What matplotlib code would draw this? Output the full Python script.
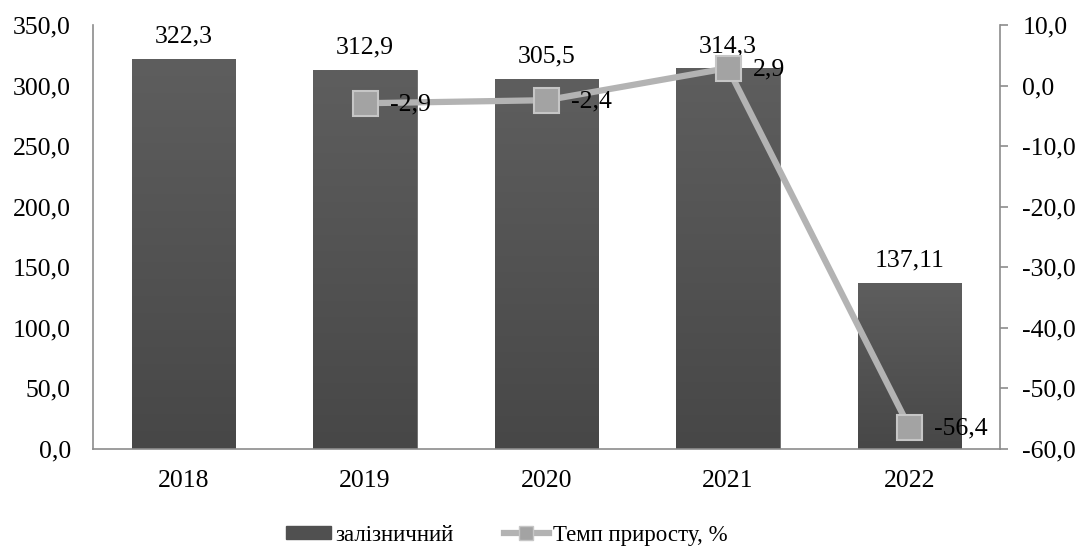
import numpy as np
import matplotlib.pyplot as plt

plt.rcParams['font.family'] = ['Liberation Serif', 'DejaVu Serif']

years = ['2018', '2019', '2020', '2021', '2022']
rail = [322.3, 312.9, 305.5, 314.3, 137.11]
rail_labels = ['322,3', '312,9', '305,5', '314,3', '137,11']
growth_years = ['2019', '2020', '2021', '2022']
growth = [-2.9, -2.4, 2.9, -56.4]

left_ticks = np.arange(0, 351, 50)
right_ticks = np.arange(-60, 11, 10)


def comma(v):
    return f'{v:.1f}'.replace('.', ',')


fs = 18.5
fig = plt.figure(figsize=(10.8, 5.46), dpi=100)
ax = fig.add_axes([0.0861, 0.1777, 0.8398, 0.7763])
x = np.arange(len(years))

bars = ax.bar(x, rail, width=0.57, color='#525252', zorder=2)
# vertical gradient inside each bar
grad = np.linspace(0, 1, 256).reshape(-1, 1)
cmap = plt.matplotlib.colors.LinearSegmentedColormap.from_list(
    'g', ['#474747', '#5e5e5e'])
for b in bars:
    x0, y0 = b.get_x(), b.get_y()
    w, h = b.get_width(), b.get_height()
    im = ax.imshow(grad, cmap=cmap, origin='lower', aspect='auto',
                   extent=[x0, x0 + w, y0, y0 + h], zorder=2.5)
    im.set_clip_path(b)
    b.set_edgecolor('#6a6a6a')
    b.set_linewidth(0.6)

for xi, v, s in zip(x, rail, rail_labels):
    ax.annotate(s, (xi, v), xytext=(0, 8), textcoords='offset points',
                ha='center', va='bottom', fontsize=fs, zorder=5)

ax.set_xlim(-0.5, len(years) - 0.5)
ax.set_ylim(0, 350)
ax.set_yticks(left_ticks)
ax.set_yticklabels([comma(t) for t in left_ticks], fontsize=fs)
ax.set_xticks(x)
ax.set_xticklabels(years, fontsize=fs)
ax.tick_params(axis='y', length=0, pad=16)
ax.tick_params(axis='x', length=0, pad=15)
for s in ['top', 'right']:
    ax.spines[s].set_visible(False)
for s in ['left', 'bottom']:
    ax.spines[s].set_color('#8c8c8c')
    ax.spines[s].set_linewidth(1.2)

ax2 = ax.twinx()
gx = [years.index(y) for y in growth_years]
ax2.plot(gx, growth, color='#b3b3b3', lw=4.5, marker='s', markersize=18,
         markerfacecolor='#a3a3a3', markeredgecolor='#c6c6c6',
         markeredgewidth=1.5, zorder=4, solid_capstyle='butt')
for xi, v in zip(gx, growth):
    ax2.annotate(comma(v), (xi, v), xytext=(18, -1), textcoords='offset points',
                 ha='left', va='center', fontsize=fs, zorder=6)
ax2.set_ylim(-60, 10)
ax2.set_yticks(right_ticks)
ax2.set_yticklabels([comma(t) for t in right_ticks], fontsize=fs)
ax2.tick_params(axis='y', length=6, width=1.2, color='#8c8c8c', pad=10)
for s in ['top', 'left', 'bottom']:
    ax2.spines[s].set_visible(False)
ax2.spines['right'].set_color('#8c8c8c')
ax2.spines['right'].set_linewidth(1.2)

h1 = plt.Rectangle((0, 0), 1, 1, color='#505050')
h2, = ax2.plot([], [], color='#b3b3b3', lw=4.5, marker='s', markersize=10,
               markerfacecolor='#a3a3a3', markeredgecolor='#c6c6c6')
fig.legend([h1, h2], ['залізничний', 'Темп приросту, %'], loc='lower center',
           bbox_to_anchor=(0.469, -0.037), ncol=2, frameon=False, fontsize=16.5,
           handlelength=2.0, handletextpad=0.15, columnspacing=2.2,
           handleheight=0.55)

fig.savefig('out.png', dpi=100)
